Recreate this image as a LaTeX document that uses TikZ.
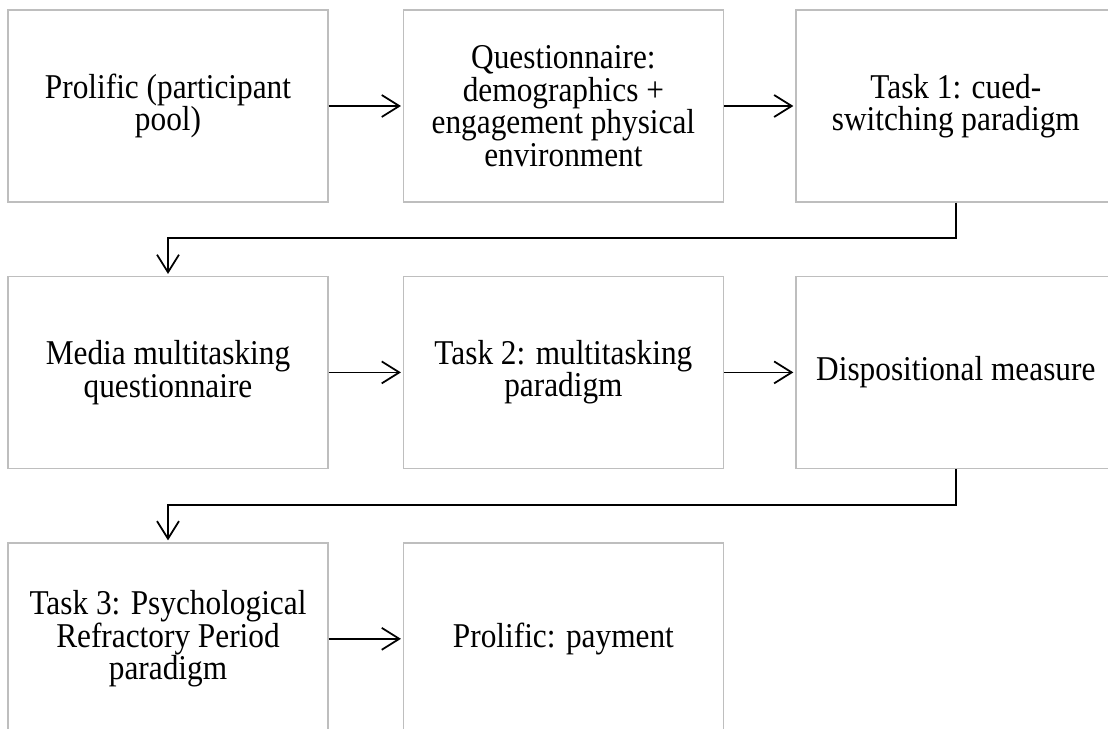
\documentclass[tikz,border=0pt]{standalone}
\usepackage{fontspec}
\setmainfont[FakeStretch=0.9]{Liberation Serif}
\usepackage{tikz}
\usetikzlibrary{positioning, arrows.meta}
\definecolor{boxline}{RGB}{190, 190, 190}

\begin{document}
\begin{tikzpicture}[
  font=\fontsize{19.8}{18.5}\selectfont,
  node distance=1.46cm,
  box/.style={rectangle, draw=boxline, line width=0.8pt, minimum width=6.4cm, minimum height=3.84cm, align=center, inner sep=0pt},
  flow/.style={-{Straight Barb[length=10pt, width=12.5pt]}, line width=1pt, shorten >=1pt},
]

  \useasboundingbox (0,0) rectangle (22.16,-14.58);
  \clip (0,0) rectangle (22.16,-14.58);

  % First row
  \node[box] (pool) at (3.36,-2.12) {Prolific (participant\\ pool)};
  \node[box, right=1.48cm of pool] (quest) {Questionnaire:\\ demographics +\\ engagement physical\\ environment};
  \node[box, right=1.42cm of quest] (task1) {Task 1: cued-\\ switching paradigm};

  \draw[flow] (pool) -- (quest);
  \draw[flow] (quest) -- (task1);

  % Second row
  \node[box, below=1.46cm of pool] (media) {Media multitasking\\ questionnaire};
  \node[box, right=1.48cm of media] (task2) {Task 2: multitasking\\ paradigm};
  \node[box, right=1.42cm of task2] (dispo) {Dispositional measure};

  \draw[flow] (task1.south) -- ++(0,-0.7) -| (media.north);
  \draw[flow] (media) -- (task2);
  \draw[flow] (task2) -- (dispo);

  % Third row
  \node[box, below=1.46cm of media] (task3) {Task 3: Psychological\\ Refractory Period\\ paradigm};
  \node[box, right=1.48cm of task3] (payment) {Prolific: payment};

  \draw[flow] (dispo.south) -- ++(0,-0.72) -| (task3.north);
  \draw[flow] (task3) -- (payment);

\end{tikzpicture}
\end{document}
